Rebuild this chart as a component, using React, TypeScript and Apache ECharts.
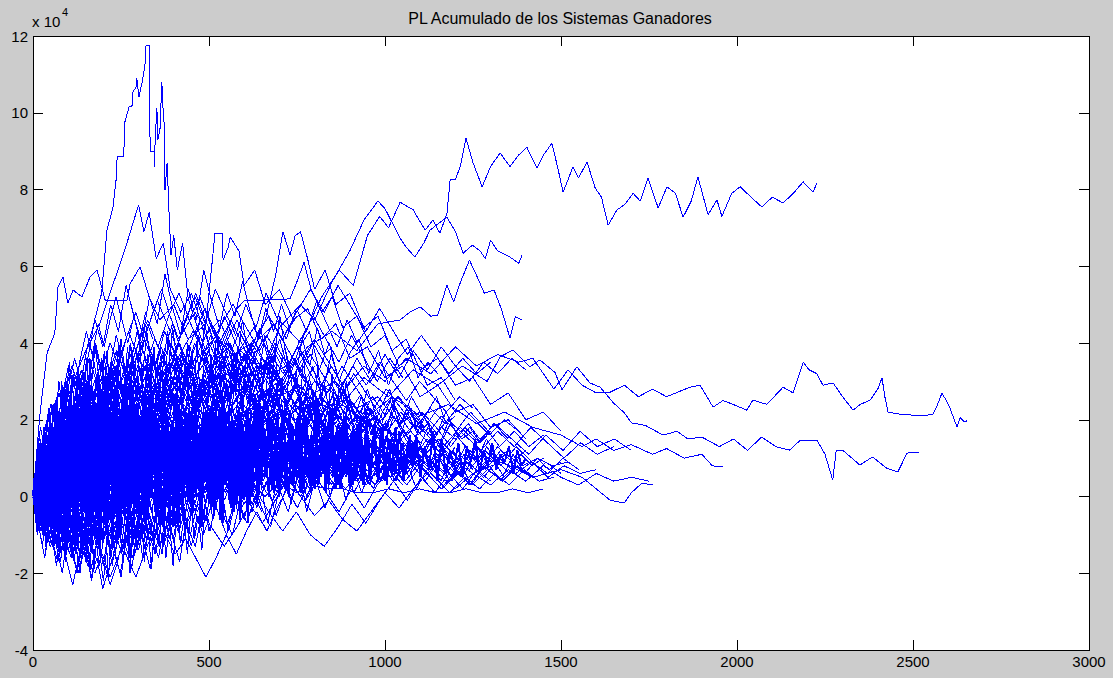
import React, { useEffect, useRef } from "react";
import * as echarts from "echarts";

// values in units of 1e4 (axis shows "x 10^4")
const xTicks = [0, 500, 1000, 1500, 2000, 2500, 3000];
const yTicks = [-4, -2, 0, 2, 4, 6, 8, 10, 12];
const titleText = "PL Acumulado de los Sistemas Ganadores";

// prominent systems: [trade index, cumulative PL]
const p1 = [[0,0],[40,0.8],[90,1.5],[150,0.9],[220,2.1],[300,1.6],[380,2.8],[450,2.2],[520,3.4],[580,3.0],[640,4.1],[700,4.6],[760,4.0],[820,5.2],[870,5.9],[910,5.5],[950,6.8],[985,7.3],[1010,7.0],[1043,7.67],[1080,7.47],[1114,6.94],[1136,7.2],[1156,6.86],[1176,7.38],[1185,8.25],[1200,8.25],[1215,8.64],[1230,9.34],[1250,8.7],[1276,8.07],[1300,8.6],[1327,8.95],[1355,8.6],[1380,8.9],[1403,9.1],[1432,8.56],[1450,8.9],[1474,9.2],[1490,8.6],[1506,7.93],[1534,8.59],[1550,8.3],[1574,8.72],[1597,8.04],[1615,7.8],[1634,7.07],[1659,7.47],[1680,7.6],[1705,7.9],[1725,7.7],[1747,8.3],[1776,7.52],[1801,8.07],[1825,7.9],[1847,7.28],[1870,7.7],[1889,8.33],[1918,7.34],[1943,7.73],[1957,7.3],[1985,7.9],[2009,8.07],[2040,7.8],[2071,7.54],[2100,7.8],[2131,7.65],[2160,7.9],[2188,8.2],[2216,7.93],[2227,8.17]];
const p2 = [[0,0],[50,-0.4],[110,0.6],[170,1.2],[240,0.8],[310,1.9],[380,2.6],[450,2.0],[520,3.1],[590,3.8],[650,3.3],[700,4.4],[760,5.0],[800,4.6],[850,5.6],[900,6.4],[940,7.2],[980,7.7],[1000,7.5],[1043,6.73],[1060,6.5],[1085,6.24],[1110,6.6],[1128,6.94],[1150,7.1],[1176,7.28],[1200,6.9],[1222,6.34],[1248,6.55],[1270,6.4],[1285,6.2],[1300,6.68],[1320,6.4],[1355,6.24],[1380,6.08],[1390,6.3]];
const p3 = [[0,0],[60,0.9],[130,0.4],[200,1.6],[280,1.1],[350,2.3],[420,1.8],[500,2.9],[570,2.4],[640,3.5],[700,3.0],[780,3.9],[850,4.3],[920,3.8],[980,4.5],[1043,4.6],[1070,4.8],[1100,4.94],[1130,4.7],[1150,4.73],[1176,5.51],[1195,5.07],[1215,5.6],[1240,6.16],[1262,5.72],[1282,5.3],[1310,5.38],[1330,4.9],[1355,4.13],[1370,4.68],[1390,4.6]];
const p4 = [[0,0],[50,0.7],[120,-0.3],[200,0.9],[270,0.5],[350,1.6],[420,1.1],[500,2.2],[560,1.7],[640,2.6],[720,2.1],[800,3.0],[870,2.6],[940,3.4],[1000,3.0],[1060,3.6],[1130,3.2],[1200,3.9],[1260,3.4],[1320,3.7],[1380,3.5],[1420,3.6],[1450,3.2],[1480,2.8],[1520,3.3],[1560,2.9],[1600,2.7],[1640,2.72],[1680,2.9],[1720,2.6],[1760,2.8],[1800,2.6],[1840,2.75],[1867,2.85],[1895,2.9],[1932,2.33],[1960,2.5],[1989,2.4],[2028,2.25],[2045,2.51],[2085,2.4],[2131,2.85],[2159,2.7],[2188,3.5],[2205,3.3],[2227,3.2],[2244,2.9],[2273,2.96],[2300,2.6],[2330,2.25],[2350,2.4],[2378,2.51],[2400,2.8],[2412,3.09],[2420,2.6],[2429,2.2],[2460,2.15],[2500,2.12],[2530,2.1],[2557,2.15],[2570,2.4],[2582,2.69],[2595,2.5],[2605,2.3],[2625,1.81],[2634,2.05],[2645,1.95],[2653,1.97]];
const p5 = [[0,0],[60,-0.5],[130,0.6],[210,0.2],[300,1.3],[380,0.8],[460,1.9],[540,1.4],[620,2.3],[700,1.8],[780,2.6],[860,2.2],[940,3.1],[1010,2.6],[1080,3.3],[1150,2.9],[1220,3.4],[1290,3.0],[1327,3.64],[1364,3.82],[1412,3.38],[1440,3.56],[1483,3.23],[1503,2.78],[1545,3.38],[1582,2.96],[1611,2.85],[1650,2.43],[1680,2.18],[1700,1.92],[1740,1.85],[1790,1.6],[1830,1.7],[1860,1.5],[1900,1.55],[1950,1.3],[1990,1.5],[2030,1.2],[2070,1.55],[2110,1.3],[2150,1.21],[2180,1.47],[2227,1.47],[2250,1.1],[2272,0.43],[2282,1.21],[2300,1.21],[2349,0.82],[2385,1.03],[2425,0.74],[2457,0.64],[2483,1.13],[2518,1.16]];
const p6 = [[0,0],[70,0.8],[140,0.3],[220,1.2],[300,0.7],[380,1.6],[460,1.1],[540,2.0],[620,1.5],[700,2.3],[780,1.8],[860,2.5],[940,2.0],[1020,2.6],[1100,2.1],[1180,2.4],[1260,1.9],[1340,2.2],[1420,1.8],[1500,1.6],[1560,1.3],[1600,1.5],[1650,1.2],[1700,1.35],[1760,1.1],[1800,1.25],[1850,1.0],[1900,1.1],[1930,0.8],[1960,0.77]];
const p7 = [[0,0],[60,0.5],[130,-0.2],[210,0.6],[290,0.1],[370,0.9],[450,0.4],[530,1.2],[610,0.7],[690,1.4],[770,0.9],[850,1.5],[930,1.0],[1010,1.3],[1090,0.8],[1170,1.1],[1250,0.6],[1330,0.9],[1420,0.5],[1500,0.7],[1560,0.5],[1600,0.2],[1640,-0.1],[1680,-0.17],[1700,0.1],[1730,0.35],[1760,0.3]];
const s1 = [[0,0],[30,0.9],[60,1.8],[90,1.2],[120,2.6],[150,3.3],[175,4.6],[195,5.3],[210,6.94],[227,7.52],[236,8.25],[239,8.85],[256,8.85],[259,9.16],[261,9.76],[273,10.15],[281,10.15],[284,10.54],[293,10.67],[295,10.9],[301,10.41],[310,10.8],[318,11.24],[321,11.74],[327,11.74],[330,11.77],[331,9.6],[335,8.98],[344,8.98],[345,8.59],[347,9.29],[352,10.12],[355,9.3],[361,9.6],[366,10.8],[369,10.15],[372,9.9],[375,7.99],[381,8.69],[386,7.5],[392,6.3],[400,6.8],[410,5.9],[425,6.6],[440,5.2],[460,4.6],[490,3.8],[520,4.2],[560,3.1],[600,3.6],[650,2.7],[700,3.0],[760,2.2],[820,2.6],[880,1.8],[940,2.1],[1000,1.4],[1050,1.7],[1100,1.2]];
const s2 = [[0,0],[20,2.17],[40,3.74],[62,4.26],[71,5.46],[85,5.72],[99,5.04],[114,5.38],[139,5.2],[162,5.72],[182,5.9],[205,5.12],[267,5.12],[276,5.55],[304,5.98],[330,5.2],[360,4.6],[400,5.0],[440,4.1],[480,4.4],[520,3.6],[560,3.9],[600,3.1],[650,3.4],[700,2.6],[760,2.9],[820,2.2],[880,2.5],[940,1.8]];
const s3 = [[0,0],[30,0.8],[70,1.7],[110,2.9],[150,3.8],[190,4.5],[230,5.6],[260,6.4],[280,7.0],[300,7.6],[315,6.9],[330,7.4],[350,6.2],[370,6.6],[390,5.4],[420,4.8],[450,5.3],[490,4.2],[530,4.6],[570,3.7],[620,4.0],[680,3.2],[740,3.5],[800,2.7],[860,3.0],[920,2.3],[980,2.6],[1040,1.9],[1100,2.2],[1150,1.6]];
const la = [[0,0],[40,0.6],[90,1.5],[140,1.0],[190,2.3],[240,2.9],[290,2.5],[340,3.6],[380,3.1],[420,4.2],[460,4.8],[490,4.4],[510,6.2],[517,6.86],[537,6.86],[540,6.16],[555,6.5],[560,6.76],[585,6.4],[600,5.5],[630,5.9],[660,5.0],[700,5.4],[740,4.6],[780,4.9],[820,4.1],[860,4.5],[900,3.6],[950,3.9],[1000,3.1],[1050,3.4],[1100,2.6],[1150,2.9],[1200,2.2],[1250,2.4],[1300,1.8],[1350,2.0],[1400,1.5]];
const lb = [[0,0],[50,-0.3],[100,0.7],[160,0.2],[220,1.4],[280,0.9],[340,2.0],[400,1.6],[460,2.7],[520,2.2],[580,3.3],[630,3.9],[660,4.6],[690,5.8],[710,6.9],[730,6.3],[745,6.8],[760,6.9],[780,6.2],[800,5.4],[830,5.9],[860,5.0],[900,5.3],[940,4.4],[980,4.7],[1020,3.8],[1060,4.1],[1100,3.3],[1150,3.6],[1200,2.9],[1250,3.1],[1300,2.4],[1350,2.7],[1400,2.0],[1450,2.2],[1500,1.7]];
const lc = [[0,0],[60,1.2],[120,0.7],[180,2.0],[240,1.5],[300,2.8],[360,2.3],[420,3.5],[480,3.0],[540,4.2],[580,4.9],[600,5.1],[730,5.15],[750,5.6],[770,6.1],[790,5.4],[820,4.8],[850,5.2],[880,4.4],[920,4.7],[960,3.9],[1000,4.2],[1040,3.4],[1080,3.7],[1120,2.9],[1160,3.1],[1200,2.5]];

// the bulk of systems: cumulative PL sampled evenly from trade 0 to its last trade
const m01 = [0,0.4,0.9,0.5,1.2,1.6,1.1,0.7,1.4,2.0,1.7,2.5,2.1,1.6,2.2,2.9,2.4,3.1,2.7,2.2,2.8,3.4,3.0,3.6];
const m02 = [0,-0.3,-0.8,-0.4,-1.1,-0.7,-1.4,-1.0,-1.8,-1.3,-2.1,-1.6,-2.4,-1.9,-1.5,-2.0,-1.2,-0.8,-1.3,-0.6,-0.2,-0.7,0.1,0.4];
const m03 = [0,0.6,0.2,1.0,0.5,1.3,1.9,1.4,0.9,1.6,1.1,0.6,1.2,1.8,1.3,2.0,1.5,1.0,1.7,2.3,1.8,1.2,1.9,1.5];
const m04 = [0,-0.5,0.1,-0.3,0.4,0.9,0.3,-0.2,0.5,1.1,0.6,1.3,0.8,0.2,0.9,1.5,1.0,1.7,1.2,0.7,1.4,2.0,1.5,1.1];
const m05 = [0,0.8,1.5,1.0,2.1,2.7,2.2,3.0,3.6,3.1,2.5,3.3,4.0,3.4,2.8,3.5,4.2,3.7,3.0,3.6,4.3,3.8,4.5,4.1];
const m06 = [0,-0.6,-0.2,-0.9,-1.4,-0.8,-1.5,-2.0,-1.4,-1.9,-1.2,-1.7,-2.3,-1.8,-1.1,-1.6,-0.9,-0.4,-1.0,-0.5,0.2,-0.3,0.4,0.0];
const m07 = [0,0.5,1.1,0.6,1.4,0.9,1.7,2.3,1.8,2.6,2.0,1.5,2.2,2.9,2.3,3.1,2.6,2.0,2.7,3.4,2.8,2.2,2.9,2.5,3.2,2.7,2.1,2.6];
const m08 = [0,0.3,-0.2,0.5,0.1,0.8,0.4,1.1,0.6,1.3,0.9,0.4,1.0,1.6,1.1,0.7,1.3,1.9,1.4,0.9,1.5,2.1,1.6,1.2,1.8,1.4,2.0,1.7];
const m09 = [0,0.9,0.4,1.3,2.0,1.5,2.4,1.8,2.7,3.3,2.7,2.1,2.9,3.6,3.0,2.4,3.1,3.8,3.2,2.6,3.3,2.8,2.2,2.9,2.4,3.0,2.5,1.9,2.4,2.0];
const m10 = [0,-0.4,0.3,-0.1,0.6,0.2,0.9,0.4,-0.2,0.5,1.0,0.5,1.2,0.7,0.1,0.8,1.3,0.8,1.5,1.0,0.4,1.1,1.6,1.1,0.6,1.2,0.8,1.4,1.0,1.5];
const m11 = [0,0.6,1.3,0.8,1.6,2.2,1.6,2.5,1.9,1.3,2.0,2.7,2.1,2.9,2.3,1.7,2.4,3.0,2.4,1.8,2.5,1.9,2.6,2.0,1.5,2.1,1.6,2.2,1.7,2.3,1.8,1.4];
const m12 = [0,-0.2,-0.7,-0.1,0.5,0.0,0.7,0.2,-0.4,0.3,0.9,0.3,1.0,0.5,-0.1,0.6,1.2,0.6,1.3,0.8,0.2,0.9,1.4,0.9,0.4,1.0,0.6,1.2,0.8,1.3,0.9,0.6,1.1,0.7];
const m13 = [0,0.4,1.0,0.5,1.2,0.8,1.6,2.1,1.5,2.3,1.7,1.1,1.8,2.5,1.9,1.4,2.1,2.7,2.0,1.5,2.2,1.6,1.1,1.7,1.3,1.9,1.4,1.0,1.5,1.1,1.6,1.2,0.8,1.3,0.9,1.2];
const m14 = [0,-0.6,0.1,-0.4,0.3,0.8,0.2,0.9,0.4,1.1,0.6,0.0,0.7,1.3,0.7,1.4,0.9,0.3,1.0,1.5,1.0,0.5,1.1,0.7,1.3,0.9,0.4,1.0,0.6,1.1,0.7,1.2,0.8,0.5,0.9,0.6];
const m15 = [0,0.7,0.2,1.0,1.6,1.0,1.8,2.4,1.8,2.6,3.2,2.6,3.3,2.7,2.1,2.8,2.2,1.6,2.3,1.7,1.2,1.8,1.3,0.9,1.4,1.0,1.5,1.1,0.7,1.2,0.8,1.3,0.9,0.6,1.0,0.7];
const m16 = [0,0.5,1.2,0.7,1.5,2.1,1.6,2.4,1.9,2.7,3.3,2.8,2.2,2.9,3.5,3.0,2.5,3.1,2.6,2.0];
const m17 = [0,-0.4,0.2,-0.3,-0.9,-0.4,-1.0,-0.5,0.1,-0.4,0.3,-0.2,0.5,0.0,-0.6,-0.1,0.5,0.1,0.7,0.3];
const m18 = [0,0.3,0.8,1.4,0.9,1.6,2.2,2.8,2.2,2.9,3.5,2.9,3.7,3.1,3.8,4.4,3.8,3.2,3.9,4.5,3.9,3.3,4.0,3.5];
const m19 = [0,-0.2,-0.8,-1.3,-0.8,-1.4,-0.9,-1.5,-1.0,-0.4,-1.0,-1.6,-2.1,-1.5,-0.9,-1.4,-0.8,-0.2,-0.7,-0.1,0.5,0.0,0.6,0.2];
const m20 = [0,0.4,-0.1,0.5,0.0,-0.6,-0.1,-0.7,-1.2,-0.7,-1.3,-0.8,-1.4,-1.0,-1.5,-1.1,-1.6,-2.1,-1.6,-1.0,-1.5,-0.9,-0.4,-0.9,-0.3,0.2,-0.3,0.3];
const m21 = [0,0.8,0.3,1.1,1.8,1.2,2.0,1.4,2.2,2.9,2.3,3.1,3.8,3.2,2.6,3.3,4.0,3.4,4.1,3.5,2.9,3.6,3.0,3.7,3.2,2.7];
const m22 = [0,0.2,-0.3,0.4,1.0,0.5,1.2,0.7,0.1,0.7,1.3,0.8,0.3,0.9,0.4,1.0,1.6,1.1,1.7,1.2,0.6,1.2,0.7,1.3,0.9,1.4,1.0,0.5,1.0,0.6,1.1,0.8];
const m23 = [0,-0.5,-1.1,-0.6,-1.2,-0.7,-0.1,-0.6,0.0,0.6,0.1,0.7,0.2,-0.3,0.3,0.9,0.4,1.0,0.5,0.0,0.6,1.1,0.6,0.1,0.6,1.0,0.5,0.9,0.4,0.7];
const m24 = [0,0.6,0.1,0.8,1.4,0.9,1.6,1.1,1.8,2.4,1.9,2.6,2.0,2.7,3.3,2.7,2.1,2.8,2.3,3.0,2.4,1.9,2.5,2.0,1.5,2.1,1.6,2.2,1.8,1.3,1.8,1.4,1.9,1.5];
const m25 = [0,1.0,0.5,1.3,2.0,1.4,2.2,2.9,2.3,3.1,2.5,3.3,4.0,3.4,4.2,4.9,4.2,3.6,4.3,3.7,3.1,3.8,3.2,3.9,3.3,2.8,3.4,2.9];
const m26 = [0,-0.3,0.3,-0.2,-0.8,-0.3,-0.9,-0.4,0.2,-0.3,0.4,-0.1,-0.7,-0.2,-0.8,-1.3,-0.8,-0.2,-0.7,-0.1,0.5,0.0,0.6,0.1,-0.4,0.2,-0.3,0.3,0.7,0.3];
const m27 = [0,0.3,0.9,0.4,1.1,0.6,0.0,0.6,1.2,0.7,1.3,0.8,0.2,0.8,0.3,-0.3,0.2,-0.4,-0.9,-0.4,-1.0,-1.3,-0.8,-0.2,-0.7,-0.1,0.4,-0.1,0.5,0.1,0.6,0.2,0.7,0.4];
const m28 = [0,0.5,1.1,0.6,1.3,0.8,1.5,2.1,1.5,2.2,2.8,2.2,2.9,3.5,2.9,3.6,4.2,3.6,3.0,3.7,3.1,2.5,3.2,2.6,2.0,2.6,2.1,1.6,2.1,1.7,2.2,1.8,1.3,1.7,1.3,1.6];
const m29 = [0,0.2,0.7,0.3,0.9,0.4,1.0,0.5,1.2,0.7,0.2,0.8,0.3,0.9,1.4,0.9,0.4,1.0,0.5,1.1,0.6,0.2,0.7,0.3,0.8,0.4,0.9,0.5,0.1,0.5,0.2,0.6,0.3,0.7,0.4,0.5];
const m30 = [0,-0.7,-0.2,-0.9,-0.4,0.2,-0.3,0.4,-0.1,0.6,1.2,0.7,1.4,0.9,0.3,1.0,1.6,1.1,1.8,1.3,0.8,1.5,1.0,1.6];
const m31 = [0,1.2,0.6,1.5,2.2,1.6,2.5,3.1,2.5,3.3,3.9,3.3,4.1,3.5,2.9,3.6,4.3,3.7,3.0,3.7,3.1,3.8,3.2,2.6,3.2,2.7];
const m32 = [0,-0.2,0.5,1.1,0.6,1.3,1.9,1.3,2.0,2.6,2.0,2.7,3.3,2.7,3.4,4.0,3.4,2.8,3.5,2.9,3.6,3.0,2.4,3.0,2.5,2.0,2.6,2.1,2.6,2.2,1.8,2.3];
const m33 = [0,0.4,0.0,0.6,0.2,0.8,0.3,0.9,1.5,1.0,1.6,1.1,0.6,1.2,0.7,1.3,0.8,1.4,0.9,0.5,1.0,0.6,1.1,0.7,1.2,0.8,0.4,0.9,0.5,1.0,0.6,0.9,0.5,0.8,0.6,0.7];
const m34 = [0,0.6,1.3,0.8,1.5,2.1,1.5,2.2,1.6,2.3,2.9,2.3,3.0,2.4,1.8,2.4,1.9,2.5,2.0,1.5,2.1,1.6,2.2,1.7,1.3,1.8,1.4,1.9,1.5,1.1,1.6,1.2,1.7,1.3,1.5,1.2];
const m35 = [0,0.6,1.3,0.7,1.5,2.2,1.6,2.4,3.0,2.4,3.1,2.5,3.3,2.7,3.4,4.0,3.4,2.8];
const m36 = [0,-0.4,-1.0,-0.5,-1.2,-1.7,-1.2,-1.8,-2.3,-1.7,-1.2,-1.8,-1.3,-0.7,-1.2,-0.6,-0.1,-0.6];
const m37 = [0,0.3,-0.2,0.4,-0.1,0.5,1.1,0.6,0.1,0.7,1.3,0.8,1.4,0.9,0.4,1.0,1.6,1.1,0.6,1.2,0.7];
const m38 = [0,1.0,1.8,1.2,2.0,2.7,2.1,2.9,3.6,3.0,2.4,3.1,3.8,3.2,2.6,3.3,2.7,2.1,2.8,2.2,2.9];
const m39 = [0,-0.3,0.3,0.9,0.4,1.0,0.5,-0.1,0.5,0.0,0.6,1.2,0.7,1.3,0.8,0.3,0.9,1.5,1.0,0.5,1.1,0.6,1.2,0.8];
const m40 = [0,0.5,0.0,-0.5,0.0,-0.6,-0.1,0.5,0.0,0.6,1.1,0.6,1.2,0.7,0.1,0.7,1.3,0.8,1.4,0.9,0.4,1.0,0.5,1.1,0.6,0.2,0.7,0.3];
const m41 = [0,0.8,1.6,1.0,1.8,2.5,1.9,2.7,3.4,2.8,3.5,2.9,2.3,3.0,3.7,3.1,2.5,3.2,2.6,2.0,2.7,2.1,2.8,2.2,1.7,2.3,1.8,2.4,1.9,2.2];
const m42 = [0,-0.5,0.1,0.7,0.2,0.8,0.3,0.9,0.4,1.0,1.6,1.0,1.7,1.1,0.5,1.1,0.6,1.2,0.7,1.3,0.8,0.3,0.8,0.4,1.0,0.5,1.1,0.7,0.3,0.8];
const m43 = [0,0.3,0.9,1.5,1.0,1.7,2.3,1.7,2.4,3.0,2.4,3.1,3.7,3.1,3.8,4.4,3.8,3.2,3.9,3.3,2.7,3.4,2.8,2.2,2.8,2.3,1.8,2.3,1.9,2.4,2.0,1.6,2.0,1.7];
const m44 = [0,0.1,-0.4,0.2,-0.2,0.4,0.9,0.4,1.0,0.5,0.0,0.5,1.1,0.6,1.2,0.7,0.2,0.7,1.2,0.7,0.3,0.8,0.3,0.9,0.5,1.0,0.6,0.2,0.6,0.3,0.7,0.4,0.8,0.5];
const m45 = [0,0.7,1.4,0.9,1.6,1.1,1.8,1.2,0.7,1.3,1.9,1.4,2.0,1.5,1.0,1.6,2.2,1.7,1.2,1.8,1.3,0.9,1.4,1.0,1.5,1.1,0.7,1.2,0.8,1.3,0.9,1.1,0.8,1.0,0.8,0.9];
const m46 = [0,-0.2,0.4,1.0,0.5,1.2,0.7,1.4,2.0,1.4,2.1,1.5,2.2,2.8,2.2,2.9,2.3,1.7,2.3,1.8,2.4,1.9,1.4,1.9,1.5,2.0,1.6,1.2,1.7,1.3,1.8,1.4,1.0,1.4,1.1,1.3];
const m47 = [0,0.4,1.0,1.7,1.1,1.9,2.6,2.0,2.8,3.5,2.9,3.7,4.3,3.7,4.4,5.0,4.4,3.8,4.5,3.9,3.3,4.0,3.4,2.8,3.4,2.9,3.5,3.0,2.5,3.0,2.6,2.2,2.6,2.3];
const m48 = [0,0.6,1.2,0.7,1.4,2.1,1.5,2.3,2.9,2.3,3.0,3.7,3.1,3.8,4.5,3.9,4.6,3.9,3.3,4.0,3.4,4.1,4.7,4.1,3.5,4.2,3.6,3.0,3.6,3.1];
const m49 = [0,0.9,1.7,1.1,2.0,2.8,2.2,3.0,3.8,3.1,3.9,4.6,3.9,4.7,5.3,4.6,5.2,4.5,3.9,4.6,4.0,3.4,4.1,3.5,2.9,3.5,3.0,3.4];
const m50 = [0,-0.3,-0.9,-0.4,-1.0,-0.5,0.1,-0.4,0.2,-0.3,0.3,0.8,0.3,0.9,0.4,-0.2,0.4,-0.1,0.5,0.0,-0.5,-0.1,-0.6,-0.9,-0.4,0.1,-0.3,0.2,0.6,0.2,0.7,0.3,0.8,0.5];
const m51 = [0,0.3,-0.1,0.4,0.0,0.6,0.2,-0.3,0.2,-0.2,0.3,0.7,0.3,0.8,0.4,0.0,0.4,0.1,0.3,0.2,0.2,0.1,0.1,0.2,0.1,0.2,0.1,0.1,0.2,0.1,0.1,0.2,0.1,0.2];
const m52 = [0,0.5,1.1,0.6,1.2,0.7,1.4,0.9,0.3,0.9,1.5,1.0,1.6,1.1,0.6,1.1,0.7,1.2,0.8,0.4,0.8,0.5,1.0,0.6,0.2,0.6,0.3,0.7,0.4,0.8,0.5,0.3,0.6,0.4,0.5,0.4];
const m53 = [0,0.7,1.5,2.2,1.6,2.4,3.1,2.5,3.3,4.0,3.4,4.2,4.8,4.1,4.8,5.4,4.7,4.1,4.7,4.2,4.9,4.3,3.8,4.4];
const m54 = [0,0.4,1.1,1.8,1.2,2.0,2.7,3.4,2.8,3.6,4.3,3.6,4.4,5.1,4.5,3.9,4.6,5.3,4.6,4.0,4.7,4.1,3.5,4.1,3.6,3.2];
const m55 = [0,-0.5,-1.0,-0.5,-1.1,-1.6,-1.0,-1.6,-2.0,-1.5,-2.1,-1.6,-1.1,-1.6,-1.0,-0.5,-1.0,-0.4,0.1,-0.4,0.2,-0.2];
const m56 = [0,0.9,1.7,2.4,1.8,2.7,3.4,2.8,3.6,4.3,3.7,4.5,3.9,4.6,5.2,4.6,4.0,4.7,4.1,4.8];
const m57 = [0,0.2,0.7,1.3,0.8,1.5,1.0,0.4,1.0,0.5,1.1,1.7,1.2,0.6,1.2,0.7,1.3,0.8,1.4];
const m58 = [0,-0.2,0.4,-0.1,0.5,1.0,0.5,1.1,0.6,0.1,0.6,0.1,-0.4,0.1,-0.4,0.2,0.7,0.2,0.8,0.3,0.9,0.4,1.0,0.6];
const m59 = [0,0.2,0.8,0.3,0.9,0.4,-0.2,0.4,1.0,0.5,1.1,1.7,1.2,1.8,1.2,0.7,1.3,0.8,1.4,1.9,1.4,0.9,1.5,1.0,1.6,1.1,0.7,1.2];
const m60 = [0,0.3,0.9,1.5,2.1,1.5,2.2,2.8,2.2,2.9,3.5,2.9,2.3,3.0,2.4,3.1,3.7,3.1,2.5,3.2,2.6,2.0,2.6,2.1,1.6,2.1,1.7,2.2,1.8,1.4,1.8,1.5];
const m61 = [0,0.5,1.1,0.6,1.3,1.9,1.3,2.0,2.6,2.0,2.7,3.3,2.7,3.4,4.0,3.4,4.1,4.7,4.1,4.8,5.4,4.8,5.5,4.9,4.3,4.9,4.3,3.7,4.2,3.7,3.2,3.6,3.2,3.5];
const m62 = [0,0.4,1.0,0.5,1.1,1.7,1.1,1.8,1.2,1.9,2.5,1.9,2.6,2.0,2.7,3.3,2.7,3.4,2.8,3.5,4.1,3.5,2.9,3.6,3.0,3.7,3.1,3.8,3.3,3.9,3.4,3.0,3.5,3.2,3.6,3.3];
// choppy systems that make up the dense core
const d01 = [0,0.9,-0.4,0.6,-0.8,0.3,1.1,-0.2,0.8,-0.6,0.5,1.3,0.0,0.9,-0.5,0.7,1.4,0.2,1.0,-0.3,0.6,1.5,0.4,1.2,-0.1,0.8,1.6,0.3,1.1,0.0,0.9,1.7,0.5,1.3,0.2,1.0,1.8,0.6,1.4,0.3,1.1,0.7,1.5,0.4,1.2,0.9];
const d02 = [0,1.1,0.3,1.6,0.5,1.9,0.8,2.2,1.0,1.8,0.6,2.0,1.2,2.6,1.4,0.9,2.3,1.5,2.8,1.3,2.1,0.9,2.5,1.7,3.0,1.6,2.4,1.1,2.7,1.9,3.2,2.0,1.4,2.8,1.8,3.3,2.2,1.5,2.9,2.1,3.4,2.3,1.7,3.0,2.2,2.8];
const d03 = [0,-0.7,0.4,-1.1,-0.1,-1.4,0.2,-0.9,-1.7,-0.3,-1.2,0.1,-1.5,-0.6,-1.9,-0.4,0.3,-1.0,-0.2,-1.6,-0.5,0.2,-1.1,-0.3,-1.4,0.0,-0.8,-1.6,-0.2,-1.0,0.4,-0.6,-1.3,0.1,-0.7,-0.1,-1.0,0.3,-0.4,0.1];
const d04 = [0,0.6,1.4,0.2,1.1,-0.3,0.9,1.7,0.4,1.3,0.0,1.5,0.7,2.0,0.9,0.2,1.6,0.8,2.2,1.0,0.5,1.8,0.9,2.3,1.2,0.6,1.9,1.1,2.5,1.3,0.7,2.0,1.2,2.6,1.4,0.9,2.2,1.5,2.8,1.6,1.0,2.3,1.4,2.7,1.7,1.2,2.1,1.6,2.4,1.8];
const d05 = [0,1.2,0.4,1.9,0.9,2.4,1.3,3.0,1.6,2.6,1.1,3.2,2.0,3.6,2.2,1.5,3.1,2.3,3.8,2.5,1.8,3.3,2.4,3.9,2.7,2.0,3.4,2.5,3.7,2.8,3.1];
const d06 = [0,-0.5,0.6,-0.9,0.3,-0.4,0.9,-0.6,0.5,-1.0,0.2,0.8,-0.3,1.0,-0.2,0.7,-0.7,0.4,1.1,-0.1,0.9,0.0,1.2,0.2,-0.4,0.8,1.4,0.3,1.0,-0.2,0.6,1.3,0.4,1.1,0.1,0.9,1.5,0.5,1.2,0.7];
const d07 = [0,0.8,1.6,0.5,1.3,2.0,0.9,1.7,2.4,1.2,2.0,0.8,1.6,2.5,1.4,2.2,1.0,1.9,2.7,1.5,2.3,1.1,2.0,2.8,1.6,2.4,1.3,2.1,2.9,1.8,2.5,1.4,2.2,1.6,2.6,1.7,2.3,1.5,2.4,1.9,2.7,1.6,2.2,1.8,2.5,2.0,1.7,2.3,1.9,2.1];
const d08 = [0,1.4,0.7,2.0,1.2,2.7,1.8,3.2,2.1,1.5,2.9,2.2,3.6,2.4,1.9,3.3,2.6,3.9,2.8,2.1,3.4,2.5,3.8,3.0,2.3,3.5,2.7,4.0,3.1,2.4,3.6,2.8,4.1,3.2,2.6,3.7,2.9,3.4,2.7,3.3,2.9,3.5,3.0,3.2];
const d09 = [0,-0.4,0.5,-0.8,0.2,-0.5,0.7,-0.2,0.4,-0.7,0.1,0.9,-0.3,0.6,-0.6,0.3,1.0,0.0,0.7,-0.4,0.5,1.1,0.2,0.8,-0.2,0.6,1.2,0.3,0.9,-0.1,0.7,1.3,0.4,1.0,0.2,0.8,1.1,0.5,0.9,0.3,0.8,1.2,0.6,0.9,0.7];
const d10 = [0,-0.6,-1.3,-0.2,-1.0,-1.8,-0.7,-1.5,-0.4,-1.2,-2.0,-0.9,-1.6,-0.5,-1.3,-2.2,-1.0,-1.7,-0.6,-1.4,-0.8,-1.9,-1.1,-0.4,-1.3,-0.7,-1.5,-0.9,-0.3,-1.1,-0.6];
const d11 = [0,0.7,-0.1,1.0,0.3,1.4,0.5,1.2,0.2,1.6,0.8,1.9,0.9,0.3,1.5,0.7,1.8,1.0,0.4,1.6,0.9,2.0,1.1,0.6,1.7,1.0,2.1,1.2,0.7,1.6,0.9,1.9,1.1,0.6,1.5,0.8,1.7,1.0,0.7,1.4,0.9,1.6,1.1,0.8,1.4,1.0,1.5,1.2,1.0,1.3];
const d12 = [0,1.0,1.8,0.8,2.1,1.3,2.6,1.6,3.0,1.9,1.2,2.5,1.7,3.1,2.0,1.4,2.7,1.8,3.2,2.1,1.5,2.8,2.0,3.3,2.2,1.6,2.7,1.9,3.0,2.1,1.5,2.6,1.8,2.9,2.0,1.6,2.5,1.9,2.8,2.1,1.7,2.4,2.0,2.6,2.2];
const d13 = [0,0.9,0.2,1.4,0.5,1.8,0.8,2.1,1.1,0.6,1.9,1.0,2.3,1.3,0.8,2.0,1.2,2.5,1.5,1.0,2.2,1.6,2.0];
const d14 = [0,-0.8,0.3,-1.1,-0.2,-1.3,0.1,-0.7,-1.5,-0.4,0.4,-0.9,0.0,-1.2,-0.3,0.5,-0.6,0.2,-1.0,-0.1,0.6,-0.5,0.3,-0.8,0.1,0.8,-0.2,0.5,-0.6,0.3,0.9,0.0,0.6,-0.3,0.4,1.0,0.2,0.7,0.1,0.5];
const d15 = [0,0.9,0.2,1.5,0.6,2.0,1.0,2.4,1.3,0.8,2.1,1.4,2.7,1.6,1.0,2.3,1.5,2.8,1.7,1.1,2.4,1.6,2.9,1.8,1.2,2.5,1.7,2.2,1.4,2.6,1.8,1.3,2.3,1.5,2.0,1.2,2.2,1.6,1.9,1.3,2.0,1.5,1.8,1.4,1.7];
const d16 = [0,1.5,0.8,2.3,1.4,3.0,2.0,3.5,2.4,1.8,3.2,2.5,3.9,2.8,2.1,3.5,2.7,4.1,3.0,2.3,3.7,2.9,4.3,3.2,2.6,3.8,3.0,4.4,3.3,2.8,3.9,3.1,4.2,3.5,3.8];
const d17 = [0,0.5,-0.6,0.2,-1.0,-0.3,0.4,-0.8,0.0,-1.1,-0.4,0.3,-0.7,0.1,-1.2,-0.5,0.2,-0.6,0.5,-0.3,-1.0,0.0,-0.4,0.6,-0.2,0.3,-0.7,0.1,0.7,-0.1,0.4,-0.4,0.6,0.0,0.8,0.2,0.5,0.1,0.7,0.4,0.6];
const d18 = [0,-1.0,0.6,-1.4,0.2,-0.8,1.0,-0.5,0.7,-1.2,0.3,1.2,-0.3,0.8,-0.9,0.5,1.4,0.0,0.9,-0.4,0.6];
const d19 = [0,0.5,1.2,0.3,1.0,1.7,0.7,1.4,2.0,1.1,1.8,0.9,1.6,2.3,1.3,2.0,1.0,1.8,2.5,1.5,2.2,1.2,2.0,2.7,1.7,2.4,1.4,2.2,2.9,1.9,2.6,1.6,2.4,3.0,2.1,2.7,1.9,2.5,2.2,2.8,2.3,2.6,2.4];
const d20 = [0,0.4,-0.3,0.8,0.1,1.1,0.3,-0.2,0.9,0.2,1.3,0.5,0.0,1.0,0.4,1.4,0.6,0.1,1.1,0.5,1.5,0.7,0.2,1.2,0.6,1.6,0.8,0.3,1.2,0.7,1.5,0.9,0.4,1.2,0.8,1.4,0.9,0.5,1.1,0.7,1.3,0.9,0.6,1.1,0.8,1.0];
const d21 = [0,0.7,-0.5,1.1,-0.2,1.5,0.3,-0.7,0.9,-0.3,1.3,0.4,-0.6,1.0,0.1,1.6,0.5,-0.2,1.2,0.6];
const d22 = [0,-0.6,0.9,-1.1,0.4,-0.4,1.2,-0.9,0.6,-1.3,0.2,1.0,-0.7,0.5,-0.2,0.8];
const d23 = [0,1.3,0.4,2.0,1.0,2.6,1.5,0.8,2.2,1.3,2.9,1.7,1.0,2.5,1.6,3.1,2.0,1.2,2.7,1.8,3.2,2.2];
const d24 = [0,0.3,1.0,-0.2,0.7,1.5,0.2,1.2,-0.1,0.9,1.8,0.5,1.4,0.1,1.1,2.0,0.7,1.6,0.3,1.3,2.1,0.9,1.7,0.5,1.4,2.2,1.0,1.8,1.2,1.6];
const d25 = [0,-0.3,-1.0,0.1,-0.7,-1.5,-0.4,-1.1,0.0,-0.8,-1.7,-0.6,-1.3,-0.2,-1.0,-1.8,-0.7,-1.4,-0.3,-1.1,-0.5,-1.2,-0.6];
const e01 = [0,0.8,-0.6,0.5,-0.9,0.9,-0.3,1.2,0.0,-0.7,0.7,-0.4,1.3,0.1,-0.5,1.0,-0.2,1.5,0.3,-0.3,1.1,0.0,1.6,0.4,-0.1,1.3,0.2,1.8,0.6,0.0,1.4,0.3,1.9,0.7,0.2,1.5,0.5,2.0,0.9,0.4,1.6,0.7,1.9,1.0,0.5,1.7,0.9,1.3,1.1,1.5];
const e02 = [0,1.6,0.6,2.4,1.1,2.9,1.5,0.9,2.6,1.4,3.1,1.9,1.2,2.8,1.7,3.3,2.1,1.4,3.0,1.9,3.5,2.3,1.6,3.1,2.0,3.6,2.4,1.8,3.2,2.2,3.7,2.6,2.0,3.3,2.4,3.8,2.7,2.2,3.4,2.9];
const e03 = [0,-0.9,0.2,-1.3,-0.1,-1.6,-0.4,0.3,-1.1,-0.2,-1.5,-0.5,0.2,-0.9,0.0,-1.3,-0.3,0.4,-0.8,0.1,-1.1,-0.2,0.6,-0.6,0.3,-0.9,0.0,0.8,-0.4,0.5,-0.7,0.2,1.0,-0.2,0.7,-0.4,0.4,1.1,0.0,0.8,-0.1,0.6,1.0,0.3,0.8,0.5];
const e04 = [0,1.4,-0.2,1.8,0.3,2.2,0.6,1.9,0.2,2.4,0.9,2.7,1.1,0.5,2.3,0.8,2.9,1.3,0.7,2.5,1.0,3.0,1.4,0.8,2.6,1.2,3.1,1.5,1.0,2.7,1.3,2.9,1.6,2.2,1.8];
const e05 = [0,0.9,1.8,0.6,1.5,2.3,1.0,2.0,2.8,1.4,2.4,1.1,2.1,2.9,1.6,2.6,1.2,2.3,3.0,1.7,2.7,1.4,2.4,3.1,1.9,2.8,1.5,2.5,3.0,1.8,2.7,1.5,2.4,2.9,1.9,2.6,1.6,2.3,2.8,1.8,2.4,1.7,2.2,2.6,1.9,2.1];
const e06 = [0,-0.8,-1.6,-0.4,-1.3,-2.0,-0.8,-1.7,-0.5,-1.4,-2.2,-1.0,-1.8,-0.7,-1.5,-2.1,-1.0,-1.6,-0.6,-1.3,-1.9,-0.8,-1.5,-0.4,-1.2,-1.7,-0.7,-1.3,-0.5,-1.0,-0.6];
const e07 = [0,1.2,2.1,1.0,2.6,1.7,3.2,2.2,3.7,2.5,1.9,3.4,2.6,4.0,2.9,2.3,3.7,2.8,4.3,3.1,2.5,3.9,3.0,4.5,3.3,2.7,4.0,3.1,4.6,3.4,2.9,4.2,3.3,4.7,3.5,3.0,4.1,3.4,4.4,3.7,3.9];
const e08 = [0,0.5,-0.2,0.9,0.2,1.3,0.4,1.6,0.7,0.1,1.2,0.5,1.8,0.8,0.2,1.4,0.6,1.9,0.9,0.3,1.5,0.7,2.0,1.0,0.4,1.6,0.8,1.9,1.1,0.5,1.5,0.8,1.8,1.0,0.6,1.4,0.9,1.6,1.1,0.7,1.3,0.9,1.5,1.0,1.2];
const e09 = [0,1.1,-0.6,0.8,-1.0,1.3,-0.3,1.6,0.0,-0.8,1.2,-0.2,1.8,0.3,-0.5,1.5,0.1,2.0,0.5,-0.2,1.6,0.4,1.1,0.7];
const e10 = [0,1.0,2.0,1.4,2.6,3.4,2.8,3.9,4.6,3.9,5.0,4.3,5.5,4.7,4.0,5.2,4.5,5.8,4.9,4.2,5.4,4.6,5.9,5.1,4.4,5.3,4.7,5.6,4.8,4.1,4.9,4.3,5.0,4.4,4.7];
const e11 = [0,0.6,1.3,0.8,1.7,2.4,1.8,2.6,3.3,2.7,3.5,4.1,3.4,4.3,3.7,4.6,5.2,4.5,5.4,4.8,4.2,5.0,4.4,5.3,4.7,4.1,4.9,4.3,5.1,4.5,3.9,4.6,4.0,4.4];
const e12 = [0,0.7,1.5,0.9,1.8,2.6,1.9,2.8,3.5,2.6,3.3,2.4,3.1,3.9,2.9,3.7,2.8,3.5,4.2,3.2,4.0,3.0,3.8,4.4,3.4,4.1,3.1,3.9,4.3,3.3,4.0,3.0,3.7,4.1,3.2,3.8,2.9,3.6,3.9,3.1,3.5,3.2];
const e13 = [0,1.2,0.3,1.8,0.8,2.4,1.3,2.9,1.7,1.0,2.6,1.6,3.2,2.0,1.3,2.8,1.9,3.4,2.3,1.6,2.9,2.2,2.6];
const e14 = [0,-0.9,0.2,-1.3,-0.3,-1.7,-0.6,-1.2,-2.0,-0.8,-1.5,-0.4,-1.8,-1.0,-0.5,-1.4,-0.8];
const e15 = [0,0.6,-0.4,0.8,-0.1,1.1,0.2,-0.5,0.7,-0.2,1.0,0.1,-0.3,0.9,0.2,1.3,0.4,-0.1,1.0,0.3,1.4,0.5,0.0,1.1,0.4,1.5,0.6,0.1,1.2,0.5,1.4,0.7,0.2,1.1,0.6,1.3,0.8,0.4,1.0,0.7,1.2,0.9];
const e16 = [0,0.8,0.1,1.2,0.4,1.6,0.7,2.0,0.9,0.3,1.5,0.8,1.9,1.1,0.5,1.7,1.0,2.1,1.2,0.6,1.6,0.9,1.9,1.1,0.5,1.4,0.8,1.7,1.0,0.4,1.3,0.7,1.5,0.9,0.4,1.2,0.6,1.3,0.8,0.4,1.1,0.6,1.0,0.7,0.9];
const e17 = [0,1.0,0.4,1.6,0.8,2.2,1.3,2.7,1.7,1.0,2.4,1.6,3.0,2.0,1.3,2.6,1.8,3.1,2.1,1.5,2.7,1.9,3.0,2.2,1.6,2.6,1.9,2.8,2.0,1.4,2.3,1.7,2.5,1.8,1.3,2.1,1.5,2.2,1.6,1.9,1.5,1.7];
const e18 = [0,-0.4,-1.2,-0.1,-0.9,0.2,-0.7,-1.4,-0.3,-1.1,0.1,-0.8,-1.5,-0.4,-1.2,0.0,-0.9,-1.6,-0.5,-1.1,-0.1,-0.8,-1.3,-0.3,-0.9,0.1,-0.6,-1.0,-0.2,-0.7,0.0,-0.4];
const e19 = [0,1.8,0.9,2.5,1.5,3.2,2.0,1.3,2.8,1.8,3.5,2.3,1.6,3.1,2.1,3.7,2.5,1.8,3.2,2.2,3.8,2.6,1.9,3.3,2.4,3.0,2.6];
const e20 = [0,-0.6,0.3,-0.9,0.0,-1.2,-0.3,0.4,-0.7,0.1,-1.0,-0.2,0.5,-0.6,0.2,-0.9,-0.1,0.6,-0.5,0.3,-0.7,0.0,0.7,-0.3,0.4,-0.5,0.2,0.8,-0.1,0.5,-0.3,0.3,0.9,0.1,0.6,0.2,0.8,0.4,0.7];
const f01 = [0,0.6,-0.3,0.9,0.0,1.2,0.3,-0.2,1.0,0.2,1.4,0.5,-0.1,1.1,0.4,1.6,0.6,0.1,1.3,0.5,1.7,0.8,0.2,1.4,0.6,1.8,0.9,0.3,1.5,0.7,1.9,1.0,0.4,1.5,0.8,1.7,1.0,0.5,1.3,0.8,1.5,0.9,0.6,1.2,0.8,1.0];
const f02 = [0,0.7,1.5,0.6,1.6,2.2,1.1,2.0,2.7,1.5,2.4,1.2,2.2,2.9,1.7,2.6,1.4,2.3,3.0,1.8,2.7,1.5,2.4,3.1,2.0,2.8,1.6,2.5,3.0,1.9,2.6,1.5,2.3,2.8,1.8,2.4,1.6,2.2,2.6,1.9,2.3,2.0];
const f03 = [0,-0.5,0.4,-0.7,0.2,-0.9,0.1,0.7,-0.4,0.5,-0.6,0.3,0.9,-0.2,0.6,-0.4,0.4,1.0,0.0,0.8,-0.2,0.5,1.1,0.2,0.9,0.0,0.7,1.2,0.3,1.0,0.1,0.8,1.3,0.4,1.0,0.2,0.7,1.1,0.4,0.9,0.3,0.7,1.0,0.5,0.8,0.6];
const f04 = [0,1.3,0.5,2.0,1.1,2.6,1.6,3.1,2.0,1.4,2.8,2.0,3.4,2.4,1.8,3.1,2.3,3.7,2.6,2.0,3.3,2.5,3.9,2.8,2.2,3.5,2.7,3.9,3.0,2.4,3.4,2.6,3.7,2.9,3.2];
const f05 = [0,-0.6,-1.3,-0.3,-1.1,0.0,-0.8,-1.5,-0.5,-1.2,0.1,-0.7,-1.4,-0.3,-1.0,0.2,-0.6,-1.2,-0.1,-0.8,0.3,-0.4,-1.0,0.1,-0.6,0.4,-0.3,-0.8,0.2,-0.4,0.5,-0.1,0.3];
const f06 = [0,0.9,0.2,1.4,0.5,1.8,0.8,2.1,1.1,0.5,1.7,1.0,2.2,1.3,0.7,1.9,1.1,2.3,1.4,0.8,2.0,1.2,2.4,1.5,0.9,2.0,1.3,2.3,1.5,1.0,1.9,1.3,2.1,1.5,1.1,1.8,1.3,1.9,1.5,1.7];
const h06 = [0,-0.3,0.1,-0.6,-0.1,-0.9,-0.3,-1.2,-0.4,-1.5,-0.6,-1.3,-0.2,-1.7,-0.7,-1.4,-0.3,-1.9,-0.8,-1.6,-0.5,-2.1,-0.9,-1.5,-0.4,-1.8,-0.7,-2.0,-0.6,-1.4,-0.3,-1.7,-0.8,-1.9,-0.5,-1.3,-0.2,-1.6,-0.7,-1.8,-0.4,-1.2,-0.6,-1.5,-0.3,-1.1,-0.5,-1.4,-0.2,-0.9];
const h07 = [0,0.5,0.2,1.0,0.4,1.5,0.8,2.0,1.2,2.6,1.5,3.0,1.8,2.5,3.3,2.0,3.6,2.3,3.1,1.9,3.8,2.4,3.4,2.1,4.0,2.6,3.2,2.0,3.7,2.5,4.1,2.2,3.5,2.8,3.9,2.1,3.3,2.7,4.2,2.4,3.6,2.0,3.8,2.9,3.4,2.2,4.0,2.6,3.1,2.3,3.7,2.8,4.1,2.5,3.3,2.1,3.9,2.7,3.5,2.2,3.8,2.4,3.2,2.9,3.6,2.1,3.4,2.6,3.9,2.3,3.1,2.0,3.5,2.7,3.3,2.2,3.7,2.5,3.0,2.1,3.4,2.6,2.9,2.3,3.2,2.0,2.8,2.4,3.0,2.5];
// very choppy, many-trade systems that saturate the centre of the cloud
const h01 = [0,0.4,-0.3,0.7,-0.5,0.9,-0.2,1.2,-0.6,1.0,0.1,1.5,-0.7,1.3,-0.1,1.8,-0.4,1.6,0.3,2.0,-0.8,1.4,0.0,2.2,-0.5,1.7,0.4,2.1,-0.3,1.9,-0.9,1.5,0.2,2.3,-0.6,1.8,0.5,2.0,-0.2,1.6,-0.8,2.2,0.1,1.9,-0.5,2.4,0.3,1.7,-0.7,2.0,0.0,2.3,-0.4,1.5,0.6,2.1,-0.6,1.8,0.2,2.4,-0.3,1.6,-0.9,2.0,0.4,2.2,-0.1,1.7,-0.6,2.3,0.3,1.9,-0.4,2.1,0.0,1.5,-0.8,2.2,0.5,1.8,-0.2,2.4,-0.5,1.6,0.1,2.0,-0.7,1.9,0.4,2.3,-0.3,1.7,0.2,2.1,-0.6,1.8,0.0,2.2,-0.2,1.9];
const h02 = [0,-0.2,0.5,-0.6,0.8,0.0,1.1,-0.4,1.4,0.2,1.7,-0.7,1.2,0.4,2.0,-0.3,1.5,0.1,2.2,-0.6,1.8,0.5,1.3,-0.9,2.1,0.0,1.6,-0.4,2.3,0.3,1.4,-0.7,1.9,0.6,2.2,-0.2,1.7,-0.8,2.0,0.2,1.5,-0.5,2.4,0.4,1.8,-0.3,2.1,0.0,1.6,-0.9,2.3,0.5,1.9,-0.4,1.4,0.1,2.2,-0.6,1.7,0.3,2.0,-0.2,2.4,-0.7,1.5,0.4,2.1,0.0,1.8,-0.5,2.3,0.2,1.6,-0.8,1.9,0.6,2.2,-0.3,1.7,0.1,2.0,-0.6,2.4,0.3,1.5,-0.1,2.1,-0.4,1.8,0.5,2.2,0.0,1.6,-0.7,2.0,0.2,1.9,-0.2,2.3,0.4];
const h03 = [0,0.3,-0.2,0.8,-0.4,1.1,0.0,1.5,-0.6,1.3,0.2,1.9,-0.3,1.6,0.4,2.2,-0.7,1.8,0.1,2.0,-0.4,2.3,0.3,1.4,-0.8,2.1,0.5,1.7,-0.2,2.4,0.0,1.5,-0.5,2.2,0.6,1.9,-0.3,2.0,0.2,1.6,-0.6,2.3,0.4,1.8,-0.1,2.1,0.1,1.5,-0.4,2.2,0.5,1.9,0.0,2.3,0.3,1.7,-0.2,2.0,0.6,2.2,0.1,1.6,0.4,2.3,-0.1,1.9,0.5,2.1,0.2,1.7,0.0,2.2,0.6,1.8,0.3,2.0,0.1,2.3,0.5,1.6,0.2,2.1,0.7,1.9,0.3,2.2,0.4,1.7,0.6,2.0,0.2,1.8,0.5,2.1,0.3,1.6,0.7,1.9,0.4,1.7,0.6,1.5,0.5,1.8,0.7,1.4,0.6,1.6,0.8,1.3,0.9];
const h04 = [0,-0.3,0.6,-0.5,1.0,-0.1,1.3,-0.7,1.6,0.1,1.2,-0.4,2.0,0.3,1.7,-0.8,1.4,0.0,2.2,-0.3,1.8,0.4,2.3,-0.6,1.5,0.2,2.1,-0.2,1.9,0.5,1.3,-0.5,2.4,0.1,1.7,-0.7,2.0,0.3,1.6,-0.1,2.2,0.6,1.8,-0.4,2.3,0.0,1.5,0.2,2.1,-0.3,1.9,0.5,2.2,0.1,1.6,-0.2,2.0,0.4,2.3,0.0,1.7,0.3,2.1,0.6,1.8,0.1,2.2,0.4,1.5,0.0,1.9,0.5,2.3,0.2,1.7,0.6,2.0,0.3,1.6,0.1,2.2,0.5,1.8,0.2,2.1,0.7,1.7,0.4,1.9,0.3,2.0,0.6,1.5,0.5,1.8,0.4];
const h05 = [0,0.2,-0.2,0.6,-0.4,0.9,0.0,1.2,-0.5,1.0,0.3,1.5,-0.3,1.8,0.1,1.4,-0.6,2.0,0.4,1.6,-0.2,2.2,0.0,1.7,0.5,2.1,-0.4,1.9,0.2,2.3,0.0,1.5,0.6,2.0,-0.1,1.8,0.3,2.2,0.1,1.6,-0.3,2.1,0.4,1.9,0.0,2.3,0.5,1.7,0.2,2.0,-0.1,1.8,0.6,2.2,0.3,1.6,0.0,2.0,0.5,1.8,0.2,2.1,0.7,1.7,0.3,1.9,0.1,2.2,0.5,1.6,0.4,2.0,0.2,1.8,0.6,1.5,0.3,1.9,0.5,1.7,0.4,1.6,0.7,1.8,0.3,1.5,0.6,1.7,0.4,1.4,0.8,1.6,0.5,1.3,0.7,1.7,0.4,1.5,0.6,1.2,0.8,1.4,0.5,1.3,0.9,1.5,0.6,1.2,0.8,1.4,0.7,1.1,0.9,1.3,0.6,1.2,0.8,1.0];
const h08 = [0,0.5,-0.4,0.9,-0.7,1.4,-0.2,1.8,-1.0,1.2,0.3,2.2,-0.6,1.6,-1.3,2.5,0.0,1.9,-0.9,2.8,-0.3,1.5,-1.4,2.3,0.2,2.9,-0.8,1.7,-1.1,2.6,0.4,2.0,-1.5,2.4,-0.2,3.0,-0.7,1.8,-1.2,2.7,0.1,2.2,-0.5,2.9,-1.4,1.9,-0.1,2.5,-0.9,3.1,0.3,1.6,-1.3,2.3,-0.4,2.8,-1.0,2.0,0.2,2.6,-0.6,3.0,-1.2,2.1,-0.3,2.7,-0.8,1.8,0.0,2.4];

const sparseWalks = [m01,m02,m03,m04,m05,m06,m07,m08,m09,m10,m11,m12,m13,m14,m15,m16,m17,m18,m19,m20,m21,m22,m23,m24,m25,m26,m27,m28,m29,m30,m31,m32,m33,m34,m35,m36,m37,m38,m39,m40,m41,m42,m43,m44,m45,m46,m47,m48,m49,m50,m51,m52,m53,m54,m55,m56,m57,m58,m59,m60,m61,m62,
  d01,d02,d03,d04,d05,d06,d07,d08,d09,d10,d11,d12,d13,d14,d15,d16,d17,d18,d19,d20,d21,d22,d23,d24,d25,
  e01,e02,e03,e04,e05,e06,e07,e08,e09,e10,e11,e12,e13,e14,e15,e16,e17,e18,e19,e20,
  f01,f02,f03,f04,f05,f06,h06,h07];
// last trade index of each system, same order
const sparseLengths = [450,380,520,600,340,420,700,800,900,1000,1100,1250,1400,1500,1550,260,300,480,560,780,650,1200,950,1350,880,1050,1300,1450,1480,620,720,1150,1600,1700,200,240,350,400,540,850,980,1100,1380,1420,1520,1650,1250,1050,800,1320,1450,1750,560,680,460,320,280,600,900,1200,1300,1400,
  500,650,450,800,350,550,1000,700,900,400,1200,1100,300,600,1300,500,750,250,950,1450,200,150,280,420,330,
  900,700,1000,600,1200,500,850,1350,400,750,950,1150,300,250,1100,1500,1300,650,550,1050,
  1300,1100,1400,900,800,1250,500,900];
const coreWalks = [h01,h02,h03,h04,h05,h08];
const coreLengths = [620,650,1100,1000,1400,300];

const namedWalks = [p1,p2,p3,p4,p5,p6,p7,s1,s2,s3,la,lb,lc];

export default function App() {
  const ref = useRef<HTMLDivElement>(null);
  useEffect(() => {
    if (!ref.current) return;
    const chart = echarts.init(ref.current, null, { renderer: "svg" });
    const font = "'Liberation Sans', Arial, Helvetica, sans-serif";
    const mk = (data: number[][], width: number) => ({
      type: "line",
      data,
      showSymbol: false,
      symbol: "none",
      silent: true,
      clip: true,
      lineStyle: { color: "#0000ff", width },
      emphasis: { disabled: true },
      xAxisIndex: 0,
      yAxisIndex: 0,
    });
    const even = (w: number[], len: number) => w.map((v, i) => [(len * i) / (w.length - 1), v]);
    const series: any[] = [];
    coreWalks.forEach((w, k) => series.push(mk(even(w, coreLengths[k]), 2)));
    sparseWalks.forEach((w, k) => series.push(mk(even(w, sparseLengths[k]), 1)));
    namedWalks.forEach((w) => series.push(mk(w, 1)));

    const axisCommon = {
      type: "value",
      axisLine: { show: true, onZero: false, lineStyle: { color: "#000", width: 1 } },
      axisTick: { show: true, inside: true, length: 10, lineStyle: { color: "#000" } },
      splitLine: { show: false },
    };
    const labelStyle = {
      color: "#000", fontSize: 15, fontFamily: font,
      formatter: (v: number) => String(v),
    };
    chart.setOption({
      animation: false,
      backgroundColor: "#cccccc",
      grid: {
        left: 33, right: 24, top: 36, bottom: 28,
        show: true, backgroundColor: "#ffffff", borderColor: "#000", borderWidth: 1,
      },
      xAxis: [
        {
          ...axisCommon, position: "bottom", min: xTicks[0], max: xTicks[xTicks.length - 1], interval: 500,
          axisLabel: { ...labelStyle, margin: 4 },
        },
        {
          ...axisCommon, position: "top", min: xTicks[0], max: xTicks[xTicks.length - 1], interval: 500,
          axisLabel: { show: false },
        },
      ],
      yAxis: [
        {
          ...axisCommon, position: "left", min: yTicks[0], max: yTicks[yTicks.length - 1], interval: 2,
          axisLabel: { ...labelStyle, margin: 5 },
        },
        {
          ...axisCommon, position: "right", min: yTicks[0], max: yTicks[yTicks.length - 1], interval: 2,
          axisLabel: { show: false },
        },
      ],
      graphic: [
        {
          type: "text", x: 560, y: 18,
          style: { text: titleText, fill: "#000", font: `16px ${font}`, textAlign: "center", textVerticalAlign: "middle" },
        },
        {
          type: "text", x: 32, y: 21,
          style: { text: "x 10", fill: "#000", font: `15px ${font}`, textVerticalAlign: "middle" },
        },
        {
          type: "text", x: 62, y: 12,
          style: { text: "4", fill: "#000", font: `11px ${font}`, textVerticalAlign: "middle" },
        },
      ],
      series,
    });
    return () => chart.dispose();
  }, []);
  return (
    <>
      <style>{"#plchart svg path{shape-rendering:crispEdges}"}</style>
      <div
        id="plchart"
        ref={ref}
        style={{ position: "fixed", left: 0, top: 0, width: 1113, height: 678 }}
      />
    </>
  );
}
